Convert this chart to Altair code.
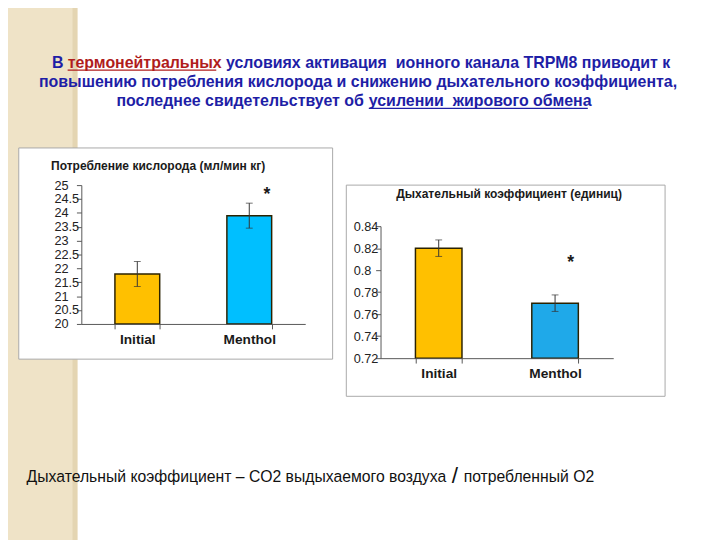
import altair as alt
import pandas as pd

# ---------------- data ----------------
categories = ["Initial", "Menthol"]
o2_mean = [21.8, 23.9]
o2_err = [0.45, 0.45]
rq_mean = [0.820, 0.770]
rq_err = [0.0075, 0.0075]
star_cat = ["Menthol"]
o2_star_y = [24.75]
rq_star_y = [0.809]
o2_ticks = [20, 20.5, 21, 21.5, 22, 22.5, 23, 23.5, 24, 24.5, 25]
rq_ticks = [0.72, 0.74, 0.76, 0.78, 0.80, 0.82, 0.84]
left_fill = ["#FFC000", "#00BFFF"]
right_fill = ["#FFC000", "#1FA9E9"]

NB = "\u00a0"
o2_title = "Потребление кислорода (мл/мин кг)"
rq_title = "Дыхательный коэффициент (единиц)"
head_1a = "В"
head_1b = "термонейтральных"
head_1c = "условиях активация " + NB + "ионного канала TRPM8 приводит к"
head_2 = "повышению потребления кислорода и снижению дыхательного коэффициента,"
head_3a = "последнее свидетельствует об"
head_3b = "усилении " + NB + "жирового обмена"
foot_a = "Дыхательный коэффициент – CO2 выдыхаемого воздуха"
foot_b = "/"
foot_c = "потребленный O2"

FONT = "Liberation Sans"
M = 8  # page margin


def p(v):
    return v - M


dummy = pd.DataFrame({"d": [0]})


def rect(x0, x1, y0, y1, fill, stroke=None, sw=0):
    kw = dict(fill=fill)
    if stroke:
        kw.update(stroke=stroke, strokeWidth=sw)
    return alt.Chart(dummy).mark_rect(**kw).encode(
        x=alt.value(p(x0)), x2=alt.value(p(x1)), y=alt.value(p(y0)), y2=alt.value(p(y1)))


def text(s, x, y, size, color, weight="normal", align="left"):
    return alt.Chart(dummy).mark_text(
        text=s, font=FONT, fontSize=size, fontWeight=weight, color=color,
        align=align, baseline="middle").encode(x=alt.value(p(x)), y=alt.value(p(y)))


def hline(x0, x1, y, color, w=1.3):
    return alt.Chart(dummy).mark_rule(color=color, strokeWidth=w).encode(
        x=alt.value(p(x0)), x2=alt.value(p(x1)), y=alt.value(p(y)))


BLUE = "#1E1EA6"
RED = "#B01C1C"
HS = 16.3
FS = 16.1

decor = [
    rect(0, 79, 0, 548, "#EFE3C7"),
    rect(74, 79, 0, 548, "#E4D5B2"),
    rect(19, 340, 145, 361, "white", "#A8A8A8", 1),
    rect(354, 680, 183, 399, "white", "#A8A8A8", 1),
    text(head_1a, 53, 58, HS, BLUE, "bold"),
    text(head_1b, 69, 58, HS, RED, "bold"),
    hline(69, 221, 65.5, RED),
    text(head_1c, 231, 58, HS, BLUE, "bold"),
    text(head_2, 366, 77.5, HS, BLUE, "bold", "center"),
    text(head_3a, 372, 97, HS, BLUE, "bold", "right"),
    text(head_3b, 377, 97, HS, BLUE, "bold"),
    hline(377, 601, 104.5, BLUE),
    text(foot_a, 27, 482, FS, "#111111"),
    text(foot_b, 465, 481, 23, "#111111", "normal", "center"),
    text(foot_c, 474, 482, FS, "#111111"),
    text(o2_title, 52, 164, 12.3, "#1a1a1a", "bold"),
    text(rq_title, 405, 192, 12.3, "#1a1a1a", "bold"),
]


def panel(means, errs, fills, ticks, star_y, xr, yr, domain, off_x, off_y, star_dx):
    df = pd.DataFrame({
        "cat": categories,
        "mean": means,
        "lo": [m - e for m, e in zip(means, errs)],
        "hi": [m + e for m, e in zip(means, errs)],
        "fill": fills,
    })
    sdf = pd.DataFrame({"cat": star_cat, "y": star_y})
    xs = alt.Scale(domain=categories, range=xr, paddingInner=0.6, paddingOuter=0.3)
    ys = alt.Scale(domain=domain, range=yr, nice=False, zero=False)
    xaxis = alt.Axis(orient="bottom", offset=off_y, tickBand="extent", tickSize=5,
                     labelAngle=0, labelFont=FONT, labelFontSize=14, labelFontWeight="bold",
                     labelColor="#1a1a1a", labelPadding=4, domainColor="#555555",
                     tickColor="#555555", title=None, grid=False, zindex=2)
    yaxis = alt.Axis(orient="left", offset=off_x, values=ticks, format="~g", tickSize=5,
                     labelAlign="left", labelPadding=23, labelFont=FONT, labelFontSize=13,
                     labelColor="#222222", labelOverlap=False, labelFlush=False,
                     domainColor="#555555", tickColor="#555555", title=None, grid=False,
                     zindex=2)
    bars = alt.Chart(df).mark_bar(stroke="#2b2200", strokeWidth=1.5).encode(
        x=alt.X("cat:N", scale=xs, axis=xaxis, sort=categories),
        y=alt.Y("mean:Q", scale=ys, axis=yaxis),
        y2=alt.datum(domain[0]),
        fill=alt.Fill("fill:N", scale=None),
    )
    rule = alt.Chart(df).mark_rule(color="#333333", strokeWidth=1).encode(
        x="cat:N", y="lo:Q", y2="hi:Q")
    cap_hi = alt.Chart(df).mark_tick(color="#333333", thickness=1, size=7).encode(
        x="cat:N", y="hi:Q")
    cap_lo = alt.Chart(df).mark_tick(color="#333333", thickness=1, size=7).encode(
        x="cat:N", y="lo:Q")
    star = alt.Chart(sdf).mark_text(text="*", font=FONT, fontSize=18, fontWeight="bold",
                                    color="#1a1a1a", dx=star_dx, dy=3).encode(
        x="cat:N", y="y:Q")
    return alt.layer(bars, rule, cap_hi, cap_lo, star)


left = panel(o2_mean, o2_err, left_fill, o2_ticks, o2_star_y,
             [p(83), p(312)], [p(325), p(183)], [20, 25],
             -p(83), p(325) - 540, 18)
right = panel(rq_mean, rq_err, right_fill, rq_ticks, rq_star_y,
              [p(389), p(627)], [p(360), p(225)], [0.72, 0.84],
              -p(389), p(360) - 540, 16)

chart = alt.layer(*decor, left, right).resolve_scale(
    x="independent", y="independent"
).properties(
    width=720, height=540, autosize=alt.AutoSizeParams(type="none"), padding=0,
    background="white"
).configure_view(strokeWidth=0)

chart.save("out.html", embed_options={"renderer": "svg", "actions": False})
